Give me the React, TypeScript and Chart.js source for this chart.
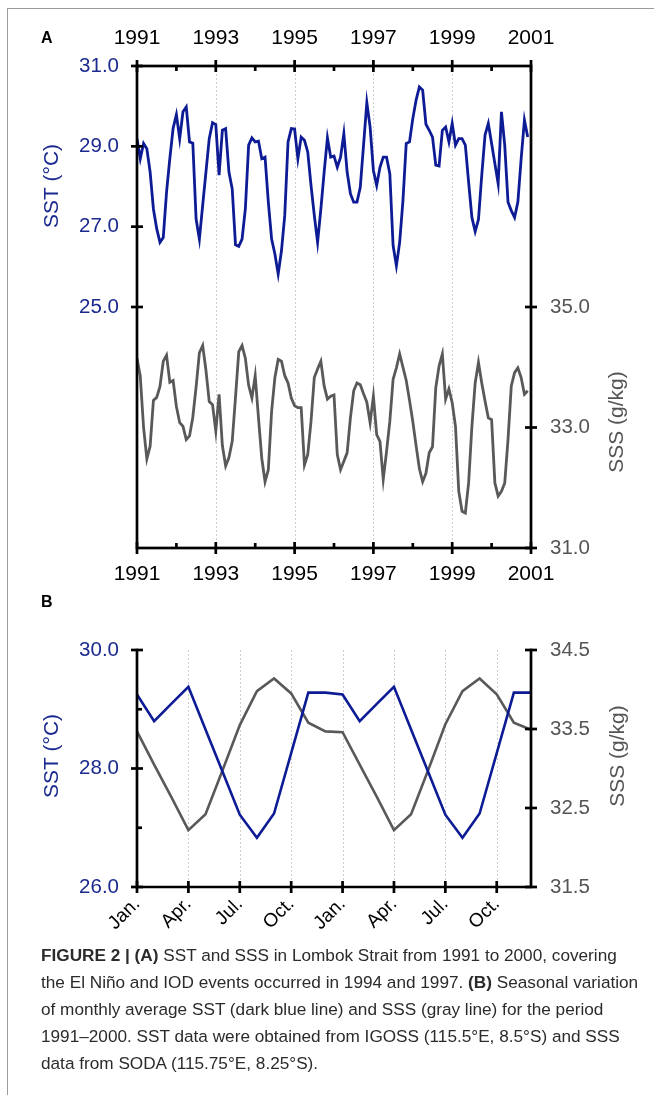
import React, { useEffect, useRef } from "react";
import { Chart, registerables } from "chart.js";

Chart.register(...registerables);

const FONT = "'Liberation Sans', Arial, Helvetica, sans-serif";
const BLUE_LINE = "#0d1b94";
const BLUE_TEXT = "#1b2a8e";
const GRAY_LINE = "#595959";
const GRAY_TEXT = "#555555";

// ---------- Panel A: monthly series 1991-2000 ----------
const START_YEAR = 1991;
const YEAR_TICKS = [1991, 1992, 1993, 1994, 1995, 1996, 1997, 1998, 1999, 2000, 2001];
const GRID_YEARS = [1993, 1995, 1997, 1999];

const SST_MONTHLY = [
  29.19, 28.69, 29.07, 28.94, 28.36, 27.44, 26.95, 26.61, 26.73, 27.86, 28.7, 29.45,
  29.79, 29.19, 29.86, 29.98, 29.11, 29.08, 27.19, 26.69, 27.53, 28.36, 29.19, 29.59,
  29.54, 28.28, 29.4, 29.44, 28.36, 27.94, 26.55, 26.51, 26.69, 27.44, 29.03, 29.21,
  29.11, 29.13, 28.69, 28.73, 27.61, 26.69, 26.32, 25.82, 26.4, 27.28, 29.11, 29.44,
  29.43, 28.69, 29.23, 29.15, 28.86, 28.03, 27.28, 26.61, 27.44, 28.36, 29.21, 28.73,
  28.76, 28.48, 28.73, 29.32, 28.36, 27.82, 27.61, 27.61, 27.98, 29.03, 30.09, 29.48,
  28.4, 28.03, 28.48, 28.73, 28.73, 28.32, 26.53, 26.03, 26.61, 27.65, 29.07, 29.11,
  29.69, 30.15, 30.48, 30.4, 29.55, 29.4, 29.23, 28.53, 28.51, 29.4, 29.48, 29.11,
  29.57, 29.03, 29.19, 29.19, 29.03, 28.11, 27.23, 26.88, 27.18, 28.28, 29.28, 29.57,
  29.07, 28.57, 28.07, 29.86, 29.03, 27.61, 27.4, 27.23, 27.61, 28.69, 29.65, 29.23,
];

const SSS_MONTHLY = [
  34.15, 33.85, 33.0, 32.48, 32.69, 33.45, 33.5, 33.68, 34.1, 34.2, 33.75, 33.78,
  33.35, 33.08, 33.02, 32.8, 32.86, 33.17, 33.67, 34.24, 34.36, 33.95, 33.43, 33.38,
  32.94, 33.55, 32.7, 32.36, 32.5, 32.77, 33.5, 34.26, 34.36, 34.15, 33.7, 33.49,
  33.86, 33.16, 32.49, 32.1, 32.3, 33.27, 33.83, 34.13, 34.1, 33.86, 33.74, 33.49,
  33.36, 33.33, 33.33, 32.38, 32.55, 33.1, 33.83, 33.97, 34.1, 33.69, 33.47, 33.52,
  33.54, 32.55, 32.3, 32.44, 32.58, 33.16, 33.61, 33.74, 33.71, 33.56, 33.42, 33.08,
  33.52, 32.88, 32.77, 32.14, 32.6, 33.1, 33.8, 33.99, 34.22, 34.0, 33.78, 33.45,
  33.1, 32.7, 32.32, 32.1, 32.24, 32.58, 32.68, 33.66, 34.02, 34.22, 33.47, 33.64,
  33.41, 33.02, 31.94, 31.61, 31.58, 32.08, 33.02, 33.74, 34.08, 33.74, 33.44, 33.16,
  33.13, 32.08, 31.86, 31.94, 32.08, 32.8, 33.69, 33.91, 33.99, 33.83, 33.55, 33.61,
];

const SST_TICKS_A = [25, 27, 29, 31];
const SSS_TICKS_A = [31, 33, 35];

// ---------- Panel B: seasonal cycle shown twice ----------
const MONTH_LABELS = [
  "Jan.", "Feb.", "Mar.", "Apr.", "May", "Jun.", "Jul.", "Aug.", "Sep.", "Oct.", "Nov.", "Dec.",
  "Jan.", "Feb.", "Mar.", "Apr.", "May", "Jun.", "Jul.", "Aug.", "Sep.", "Oct.", "Nov.", "Dec.",
];
const SST_SEASONAL = [
  29.25, 28.8, 29.09, 29.38, 28.66, 27.94, 27.22, 26.83, 27.24, 28.26, 29.28, 29.28,
  29.25, 28.8, 29.09, 29.38, 28.66, 27.94, 27.22, 26.83, 27.24, 28.26, 29.28, 29.28,
];
const SSS_SEASONAL = [
  33.47, 33.05, 32.64, 32.22, 32.42, 32.98, 33.55, 33.98, 34.14, 33.95, 33.58, 33.47,
  33.46, 33.05, 32.64, 32.22, 32.42, 32.98, 33.56, 33.98, 34.14, 33.94, 33.58, 33.49,
];
const SST_TICKS_B = [26, 28, 30];
const SST_MINOR_B = [27, 29];
const SSS_TICKS_B = [31.5, 32.5, 33.5, 34.5];

function seg(ctx: CanvasRenderingContext2D, x1: number, y1: number, x2: number, y2: number) {
  ctx.beginPath();
  ctx.moveTo(x1, y1);
  ctx.lineTo(x2, y2);
  ctx.stroke();
}

function vTitle(ctx: CanvasRenderingContext2D, text: string, x: number, y: number, color: string) {
  ctx.save();
  ctx.translate(x, y);
  ctx.rotate(-Math.PI / 2);
  ctx.fillStyle = color;
  ctx.font = `21px ${FONT}`;
  ctx.textAlign = "center";
  ctx.textBaseline = "middle";
  ctx.fillText(text, 0, 0);
  ctx.restore();
}

const TICK = 6;
const MINOR = 5;
const AXIS_W = 2.7;
const VALUE_FONT = 20.5;

const panelAPlugin = {
  id: "panelA",
  beforeDatasetsDraw(chart: any) {
    const { ctx, chartArea, scales } = chart;
    ctx.save();
    ctx.strokeStyle = "#cfcfcf";
    ctx.lineWidth = 1;
    ctx.setLineDash([2, 2]);
    GRID_YEARS.forEach((yr) => {
      const px = Math.round(scales.x.getPixelForValue(yr)) + 0.5;
      seg(ctx, px, chartArea.top, px, chartArea.bottom);
    });
    ctx.restore();
  },
  afterDraw(chart: any) {
    const { ctx, chartArea, scales } = chart;
    const { left, right, top, bottom } = chartArea;
    ctx.save();
    ctx.strokeStyle = "#000";
    ctx.lineWidth = AXIS_W;
    ctx.lineCap = "square";
    ctx.strokeRect(left, top, right - left, bottom - top);
    ctx.lineCap = "butt";
    YEAR_TICKS.forEach((yr) => {
      const px = scales.x.getPixelForValue(yr);
      if (yr % 2 === 1) {
        seg(ctx, px, top - TICK, px, top + TICK);
        seg(ctx, px, bottom - TICK, px, bottom + TICK);
      } else {
        seg(ctx, px, top, px, top + MINOR);
        seg(ctx, px, bottom, px, bottom - MINOR);
      }
    });
    SST_TICKS_A.forEach((v) => {
      const py = scales.ySST.getPixelForValue(v);
      seg(ctx, left - TICK, py, left + TICK, py);
    });
    SSS_TICKS_A.forEach((v) => {
      const py = scales.ySSS.getPixelForValue(v);
      seg(ctx, right - TICK, py, right + TICK, py);
    });
    ctx.restore();
    vTitle(ctx, "SST (°C)", 52, 186, BLUE_TEXT);
    vTitle(ctx, "SSS (g/kg)", 617, 422, GRAY_TEXT);
  },
};

const panelBPlugin = {
  id: "panelB",
  beforeDatasetsDraw(chart: any) {
    const { ctx, chartArea, scales } = chart;
    ctx.save();
    ctx.strokeStyle = "#cfcfcf";
    ctx.lineWidth = 1;
    ctx.setLineDash([2, 2]);
    MONTH_LABELS.forEach((_, i) => {
      if (i % 3 === 0 && i > 0) {
        const px = Math.round(scales.x.getPixelForValue(i)) + 0.5;
        seg(ctx, px, chartArea.top, px, chartArea.bottom);
      }
    });
    ctx.restore();
  },
  afterDraw(chart: any) {
    const { ctx, chartArea, scales } = chart;
    const { left, right, top, bottom } = chartArea;
    ctx.save();
    ctx.strokeStyle = "#000";
    ctx.lineWidth = AXIS_W;
    ctx.lineCap = "square";
    ctx.beginPath();
    ctx.moveTo(left, top);
    ctx.lineTo(left, bottom);
    ctx.lineTo(right, bottom);
    ctx.lineTo(right, top);
    ctx.stroke();
    ctx.lineCap = "butt";
    MONTH_LABELS.forEach((_, i) => {
      if (i % 3 === 0) {
        const px = scales.x.getPixelForValue(i);
        seg(ctx, px, bottom - TICK, px, bottom + TICK);
      }
    });
    SST_TICKS_B.forEach((v) => {
      const py = scales.ySST.getPixelForValue(v);
      seg(ctx, left - TICK, py, left + TICK, py);
    });
    SST_MINOR_B.forEach((v) => {
      const py = scales.ySST.getPixelForValue(v);
      seg(ctx, left, py, left + MINOR, py);
    });
    SSS_TICKS_B.forEach((v) => {
      const py = scales.ySSS.getPixelForValue(v);
      seg(ctx, right - TICK, py, right + TICK, py);
    });
    ctx.restore();
    vTitle(ctx, "SST (°C)", 52, 166, BLUE_TEXT);
    vTitle(ctx, "SSS (g/kg)", 618, 166, GRAY_TEXT);
  },
};

function yearScale(position: "top" | "bottom", height: number, padding: number) {
  return {
    type: "linear",
    position,
    min: YEAR_TICKS[0],
    max: YEAR_TICKS[YEAR_TICKS.length - 1],
    afterBuildTicks: (s: any) => {
      s.ticks = YEAR_TICKS.map((v) => ({ value: v }));
    },
    afterFit: (s: any) => {
      s.height = height;
    },
    ticks: {
      autoSkip: false,
      maxRotation: 0,
      minRotation: 0,
      padding,
      color: "#000",
      font: { size: 21, family: FONT },
      callback: (v: any) => (Number(v) % 2 === 1 ? String(v) : ""),
    },
    grid: { display: false, drawTicks: false },
    border: { display: false },
  };
}

function valueScale(
  position: "left" | "right",
  min: number,
  max: number,
  ticks: number[],
  width: number,
  color: string,
  padding: number
) {
  return {
    type: "linear",
    position,
    min,
    max,
    afterBuildTicks: (s: any) => {
      s.ticks = ticks.map((v) => ({ value: v }));
    },
    afterFit: (s: any) => {
      s.width = width;
    },
    ticks: {
      padding,
      color,
      font: { size: VALUE_FONT, family: FONT },
      callback: (v: any) => Number(v).toFixed(1),
    },
    grid: { display: false, drawTicks: false },
    border: { display: false },
  };
}

function PanelA() {
  const ref = useRef<HTMLCanvasElement | null>(null);
  useEffect(() => {
    if (!ref.current) return;
    const chart = new Chart(ref.current, {
      type: "line",
      data: {
        datasets: [
          {
            label: "SST",
            data: SST_MONTHLY.map((v, i) => ({ x: START_YEAR + i / 12, y: v })),
            xAxisID: "x",
            yAxisID: "ySST",
            borderColor: BLUE_LINE,
            borderWidth: 2.8,
            pointRadius: 0,
            tension: 0,
            fill: false,
          },
          {
            label: "SSS",
            data: SSS_MONTHLY.map((v, i) => ({ x: START_YEAR + i / 12, y: v })),
            xAxisID: "x",
            yAxisID: "ySSS",
            borderColor: GRAY_LINE,
            borderWidth: 2.8,
            pointRadius: 0,
            tension: 0,
            fill: false,
          },
        ],
      },
      options: {
        animation: false,
        responsive: false,
        maintainAspectRatio: false,
        layout: { padding: 0 },
        plugins: { legend: { display: false }, tooltip: { enabled: false } },
        scales: {
          x: yearScale("bottom", 52, 14) as any,
          xTop: yearScale("top", 66, 15) as any,
          ySST: valueScale("left", 19, 31, SST_TICKS_A, 137, BLUE_TEXT, 18) as any,
          ySSS: valueScale("right", 31, 39, SSS_TICKS_A, 123, GRAY_TEXT, 19) as any,
        },
      },
      plugins: [panelAPlugin],
    });
    return () => chart.destroy();
  }, []);
  return (
    <canvas
      ref={ref}
      width={654}
      height={600}
      style={{ position: "absolute", left: 0, top: 0, width: 654, height: 600 }}
    />
  );
}

function PanelB() {
  const ref = useRef<HTMLCanvasElement | null>(null);
  useEffect(() => {
    if (!ref.current) return;
    const chart = new Chart(ref.current, {
      type: "line",
      data: {
        labels: MONTH_LABELS,
        datasets: [
          {
            label: "SST",
            data: SST_SEASONAL,
            yAxisID: "ySST",
            borderColor: BLUE_LINE,
            borderWidth: 2.6,
            pointRadius: 0,
            tension: 0,
            fill: false,
          },
          {
            label: "SSS",
            data: SSS_SEASONAL,
            yAxisID: "ySSS",
            borderColor: GRAY_LINE,
            borderWidth: 2.6,
            pointRadius: 0,
            tension: 0,
            fill: false,
          },
        ],
      },
      options: {
        animation: false,
        responsive: false,
        maintainAspectRatio: false,
        layout: { padding: { top: 60 } },
        plugins: { legend: { display: false }, tooltip: { enabled: false } },
        scales: {
          x: {
            type: "category",
            position: "bottom",
            offset: false,
            afterFit: (s: any) => {
              s.height = 53;
            },
            ticks: {
              autoSkip: false,
              maxRotation: 45,
              minRotation: 45,
              padding: 6,
              color: "#000",
              font: { size: 19, family: FONT },
              callback: function (this: any, v: any, i: number) {
                return i % 3 === 0 ? MONTH_LABELS[i] : "";
              },
            },
            grid: { display: false, drawTicks: false },
            border: { display: false },
          } as any,
          ySST: valueScale("left", 26, 30, SST_TICKS_B, 137, BLUE_TEXT, 18) as any,
          ySSS: valueScale("right", 31.5, 34.5, SSS_TICKS_B, 123, GRAY_TEXT, 19) as any,
        },
      },
      plugins: [panelBPlugin],
    });
    return () => chart.destroy();
  }, []);
  return (
    <canvas
      ref={ref}
      width={654}
      height={350}
      style={{ position: "absolute", left: 0, top: 590, width: 654, height: 350 }}
    />
  );
}

export default function App() {
  const letter: React.CSSProperties = {
    position: "absolute",
    left: 41,
    fontFamily: FONT,
    fontWeight: "bold",
    fontSize: 16,
    lineHeight: "20px",
    color: "#000",
  };
  return (
    <div
      style={{
        position: "absolute",
        left: 0,
        top: 0,
        width: 654,
        height: 1095,
        overflow: "hidden",
        background: "#fff",
      }}
    >
      <div
        style={{
          position: "absolute",
          left: 7,
          top: 8,
          width: 700,
          height: 1100,
          borderTop: "1.5px solid #9a9a9a",
          borderLeft: "1.5px solid #9a9a9a",
        }}
      />
      <PanelA />
      <PanelB />
      <div style={{ ...letter, top: 28 }}>A</div>
      <div style={{ ...letter, top: 592 }}>B</div>
      <div
        style={{
          position: "absolute",
          left: 41,
          top: 942,
          fontFamily: FONT,
          fontSize: 17.2,
          lineHeight: "27px",
          color: "#2b2b2b",
          whiteSpace: "nowrap",
        }}
      >
        <div>
          <b>FIGURE 2 | (A)</b> SST and SSS in Lombok Strait from 1991 to 2000, covering
        </div>
        <div>
          the El Niño and IOD events occurred in 1994 and 1997. <b>(B)</b> Seasonal variation
        </div>
        <div>of monthly average SST (dark blue line) and SSS (gray line) for the period</div>
        <div>1991–2000. SST data were obtained from IGOSS (115.5°E, 8.5°S) and SSS</div>
        <div>data from SODA (115.75°E, 8.25°S).</div>
      </div>
    </div>
  );
}
